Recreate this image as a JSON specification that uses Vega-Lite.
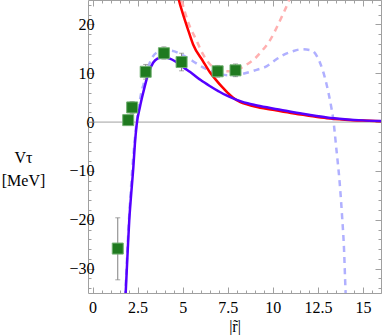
{
  "$schema": "https://vega.github.io/schema/vega-lite/v6.json",
  "width": 293,
  "height": 293,
  "autosize": "none",
  "padding": {"left": 88, "top": 0, "right": 2, "bottom": 42},
  "config": {
    "view": {"stroke": "#a0a0a0", "strokeWidth": 1},
    "font": "Liberation Serif",
    "axis": {"labelFont": "Liberation Serif", "titleFont": "Liberation Serif", "labelColor": "black", "titleColor": "black", "tickColor": "#a0a0a0", "domain": false, "grid": false, "labelFontSize": 16, "titleFontSize": 16, "titleFontWeight": "normal"}
  },
  "datasets": {
    "curves": [
      {"s": "red", "r": 4.6, "v": 28.5}, {"s": "red", "r": 4.79, "v": 25}, {"s": "red", "r": 5.0, "v": 22.3}, {"s": "red", "r": 5.31, "v": 18.8}, {"s": "red", "r": 5.58, "v": 15.9}, {"s": "red", "r": 6.14, "v": 12.4}, {"s": "red", "r": 6.51, "v": 10.2}, {"s": "red", "r": 6.88, "v": 8.5}, {"s": "red", "r": 7.16, "v": 7.3}, {"s": "red", "r": 7.5, "v": 6.0}, {"s": "red", "r": 7.8, "v": 5.0}, {"s": "red", "r": 8.2, "v": 4.1}, {"s": "red", "r": 8.6, "v": 3.6}, {"s": "red", "r": 9.0, "v": 3.2}, {"s": "red", "r": 10.0, "v": 2.5}, {"s": "red", "r": 11.0, "v": 1.85}, {"s": "red", "r": 12.0, "v": 1.3}, {"s": "red", "r": 13.0, "v": 0.8}, {"s": "red", "r": 14.0, "v": 0.5}, {"s": "red", "r": 15.0, "v": 0.3}, {"s": "red", "r": 16.0, "v": 0.15},
      {"s": "blue", "r": 1.8, "v": -38}, {"s": "blue", "r": 1.84, "v": -35}, {"s": "blue", "r": 1.95, "v": -26.5}, {"s": "blue", "r": 2.04, "v": -20}, {"s": "blue", "r": 2.15, "v": -14.5}, {"s": "blue", "r": 2.26, "v": -9.5}, {"s": "blue", "r": 2.35, "v": -4.5}, {"s": "blue", "r": 2.45, "v": -0.5}, {"s": "blue", "r": 2.63, "v": 3.1}, {"s": "blue", "r": 2.81, "v": 6.0}, {"s": "blue", "r": 3.09, "v": 9.9}, {"s": "blue", "r": 3.37, "v": 12.2}, {"s": "blue", "r": 3.6, "v": 13.0}, {"s": "blue", "r": 3.92, "v": 13.3}, {"s": "blue", "r": 4.29, "v": 13.0}, {"s": "blue", "r": 4.6, "v": 12.4}, {"s": "blue", "r": 4.94, "v": 11.5}, {"s": "blue", "r": 5.12, "v": 11.0}, {"s": "blue", "r": 5.4, "v": 10.3}, {"s": "blue", "r": 6.0, "v": 8.6}, {"s": "blue", "r": 6.5, "v": 7.4}, {"s": "blue", "r": 7.0, "v": 6.3}, {"s": "blue", "r": 7.4, "v": 5.5}, {"s": "blue", "r": 7.8, "v": 4.85}, {"s": "blue", "r": 8.2, "v": 4.3}, {"s": "blue", "r": 8.6, "v": 3.85}, {"s": "blue", "r": 9.0, "v": 3.5}, {"s": "blue", "r": 10.0, "v": 2.8}, {"s": "blue", "r": 11.0, "v": 2.1}, {"s": "blue", "r": 11.5, "v": 1.8}, {"s": "blue", "r": 12.0, "v": 1.5}, {"s": "blue", "r": 13.0, "v": 0.95}, {"s": "blue", "r": 14.0, "v": 0.6}, {"s": "blue", "r": 15.0, "v": 0.35}, {"s": "blue", "r": 16.0, "v": 0.2},
      {"s": "lred", "r": 4.8, "v": 27}, {"s": "lred", "r": 4.94, "v": 25}, {"s": "lred", "r": 5.3, "v": 20.5}, {"s": "lred", "r": 5.77, "v": 16.7}, {"s": "lred", "r": 6.14, "v": 13.8}, {"s": "lred", "r": 6.5, "v": 11.9}, {"s": "lred", "r": 7.0, "v": 10.7}, {"s": "lred", "r": 7.5, "v": 10.4}, {"s": "lred", "r": 8.0, "v": 10.6}, {"s": "lred", "r": 8.2, "v": 11.0}, {"s": "lred", "r": 8.6, "v": 11.9}, {"s": "lred", "r": 9.0, "v": 13.0}, {"s": "lred", "r": 9.4, "v": 14.6}, {"s": "lred", "r": 9.8, "v": 16.5}, {"s": "lred", "r": 10.4, "v": 20.8}, {"s": "lred", "r": 10.9, "v": 25}, {"s": "lred", "r": 11.1, "v": 27},
      {"s": "lblue", "r": 1.78, "v": -38}, {"s": "lblue", "r": 1.82, "v": -35}, {"s": "lblue", "r": 2.0, "v": -21.5}, {"s": "lblue", "r": 2.2, "v": -10}, {"s": "lblue", "r": 2.4, "v": -1.5}, {"s": "lblue", "r": 2.6, "v": 3.8}, {"s": "lblue", "r": 2.72, "v": 6.3}, {"s": "lblue", "r": 2.82, "v": 7.6}, {"s": "lblue", "r": 3.0, "v": 10.2}, {"s": "lblue", "r": 3.28, "v": 13.0}, {"s": "lblue", "r": 3.6, "v": 14.3}, {"s": "lblue", "r": 4.0, "v": 14.7}, {"s": "lblue", "r": 4.4, "v": 14.6}, {"s": "lblue", "r": 4.85, "v": 14.0}, {"s": "lblue", "r": 5.3, "v": 13.1}, {"s": "lblue", "r": 5.68, "v": 12.2}, {"s": "lblue", "r": 6.23, "v": 11.0}, {"s": "lblue", "r": 6.9, "v": 10.0}, {"s": "lblue", "r": 7.5, "v": 9.6}, {"s": "lblue", "r": 8.0, "v": 9.6}, {"s": "lblue", "r": 8.36, "v": 9.9}, {"s": "lblue", "r": 9.1, "v": 10.7}, {"s": "lblue", "r": 9.65, "v": 11.4}, {"s": "lblue", "r": 10.1, "v": 12.6}, {"s": "lblue", "r": 10.57, "v": 13.7}, {"s": "lblue", "r": 11.1, "v": 14.5}, {"s": "lblue", "r": 11.59, "v": 14.9}, {"s": "lblue", "r": 12.14, "v": 14.7}, {"s": "lblue", "r": 12.6, "v": 12.3}, {"s": "lblue", "r": 12.97, "v": 7.9}, {"s": "lblue", "r": 13.25, "v": 2.9}, {"s": "lblue", "r": 13.34, "v": 0.9}, {"s": "lblue", "r": 13.53, "v": -5.7}, {"s": "lblue", "r": 13.71, "v": -12.5}, {"s": "lblue", "r": 13.84, "v": -19.2}, {"s": "lblue", "r": 13.95, "v": -26.1}, {"s": "lblue", "r": 14.03, "v": -34.3}, {"s": "lblue", "r": 14.06, "v": -37}
    ],
    "points": [
      {"r": 1.40, "v": -25.9, "lo": -32.3, "hi": -19.6},
      {"r": 1.98, "v": 0.4, "lo": -0.6, "hi": 1.4},
      {"r": 2.20, "v": 3.0, "lo": 1.8, "hi": 4.2},
      {"r": 2.95, "v": 10.3, "lo": 8.8, "hi": 11.8},
      {"r": 3.96, "v": 14.1, "lo": 12.9, "hi": 15.4},
      {"r": 4.94, "v": 12.3, "lo": 10.5, "hi": 14.1},
      {"r": 6.94, "v": 10.4, "lo": 9.2, "hi": 11.6},
      {"r": 7.93, "v": 10.6, "lo": 9.3, "hi": 11.9}
    ],
    "zero": [{"v": 0}]
  },
  "resolve": {"axis": {"x": "independent", "y": "independent"}},
  "layer": [
    {
      "data": {"name": "zero"},
      "mark": {"type": "rule", "color": "#a0a0a0", "strokeWidth": 1},
      "encoding": {"y": {"field": "v", "type": "quantitative", "scale": {"domain": [-35, 25], "nice": false, "zero": false}, "axis": null}}
    },
    {
      "data": {"name": "curves"},
      "transform": [{"filter": "datum.s == 'lred'"}],
      "mark": {"type": "line", "color": "#ffb0b0", "strokeWidth": 2.5, "strokeDash": [6, 5], "interpolate": "monotone", "clip": true},
      "encoding": {
        "x": {"field": "r", "type": "quantitative", "scale": {"domain": [-0.25, 16], "nice": false, "zero": false}, "axis": null},
        "y": {"field": "v", "type": "quantitative", "axis": null}
      }
    },
    {
      "data": {"name": "curves"},
      "transform": [{"filter": "datum.s == 'lblue'"}],
      "mark": {"type": "line", "color": "#b0b0ff", "strokeWidth": 2.5, "strokeDash": [6, 5], "interpolate": "monotone", "clip": true},
      "encoding": {
        "x": {"field": "r", "type": "quantitative", "axis": null},
        "y": {"field": "v", "type": "quantitative", "axis": null}
      }
    },
    {
      "data": {"name": "curves"},
      "transform": [{"filter": "datum.s == 'red'"}],
      "mark": {"type": "line", "color": "#ff0000", "strokeWidth": 2.5, "interpolate": "monotone", "clip": true},
      "encoding": {
        "x": {"field": "r", "type": "quantitative", "axis": {
          "orient": "bottom",
          "values": [0,0.5,1,1.5,2,2.5,3,3.5,4,4.5,5,5.5,6,6.5,7,7.5,8,8.5,9,9.5,10,10.5,11,11.5,12,12.5,13,13.5,14,14.5,15,15.5,16],
          "labelExpr": "datum.value % 2.5 == 0 ? format(datum.value, '~g') : ''",
          "tickSize": {"condition": {"test": "datum.value % 2.5 == 0", "value": -6}, "value": -3},
          "labelPadding": 12,
          "title": "|r̃|",
          "titlePadding": 3
        }},
        "y": {"field": "v", "type": "quantitative", "axis": {
          "orient": "left",
          "values": [-34,-32,-30,-28,-26,-24,-22,-20,-18,-16,-14,-12,-10,-8,-6,-4,-2,0,2,4,6,8,10,12,14,16,18,20,22,24],
          "labelExpr": "datum.value % 10 == 0 ? format(datum.value, '~g') : ''",
          "tickSize": {"condition": {"test": "datum.value % 10 == 0", "value": -6}, "value": -3},
          "labelPadding": 0,
          "title": ["Vτ", "[MeV]"],
          "titleAngle": 0,
          "titleAlign": "center",
          "titleBaseline": "middle",
          "titleX": -65,
          "titleY": 157,
          "titleLineHeight": 23
        }}
      }
    },
    {
      "data": {"name": "curves"},
      "transform": [{"filter": "datum.s == 'blue'"}],
      "mark": {"type": "line", "color": "#5500ff", "strokeWidth": 2.5, "interpolate": "monotone", "clip": true},
      "encoding": {
        "x": {"field": "r", "type": "quantitative", "axis": {
          "orient": "top",
          "values": [0,0.5,1,1.5,2,2.5,3,3.5,4,4.5,5,5.5,6,6.5,7,7.5,8,8.5,9,9.5,10,10.5,11,11.5,12,12.5,13,13.5,14,14.5,15,15.5,16],
          "labels": false,
          "tickSize": {"condition": {"test": "datum.value % 2.5 == 0", "value": -6}, "value": -3},
          "title": null
        }},
        "y": {"field": "v", "type": "quantitative", "axis": {
          "orient": "right",
          "values": [-34,-32,-30,-28,-26,-24,-22,-20,-18,-16,-14,-12,-10,-8,-6,-4,-2,0,2,4,6,8,10,12,14,16,18,20,22,24],
          "labels": false,
          "tickSize": {"condition": {"test": "datum.value % 10 == 0", "value": -6}, "value": -3},
          "title": null
        }}
      }
    },
    {
      "data": {"name": "points"},
      "mark": {"type": "rule", "color": "#808080", "strokeWidth": 1},
      "encoding": {
        "x": {"field": "r", "type": "quantitative", "axis": null},
        "y": {"field": "lo", "type": "quantitative", "axis": null},
        "y2": {"field": "hi"}
      }
    },
    {
      "data": {"name": "points"},
      "mark": {"type": "tick", "orient": "horizontal", "color": "#808080", "size": 5, "thickness": 1},
      "encoding": {
        "x": {"field": "r", "type": "quantitative", "axis": null},
        "y": {"field": "lo", "type": "quantitative", "axis": null}
      }
    },
    {
      "data": {"name": "points"},
      "mark": {"type": "tick", "orient": "horizontal", "color": "#808080", "size": 5, "thickness": 1},
      "encoding": {
        "x": {"field": "r", "type": "quantitative", "axis": null},
        "y": {"field": "hi", "type": "quantitative", "axis": null}
      }
    },
    {
      "data": {"name": "points"},
      "mark": {"type": "square", "size": 121, "filled": true, "opacity": 1, "color": "#1f7a1f", "stroke": "#70b070", "strokeWidth": 1},
      "encoding": {
        "x": {"field": "r", "type": "quantitative", "axis": null},
        "y": {"field": "v", "type": "quantitative", "axis": null}
      }
    }
  ]
}
